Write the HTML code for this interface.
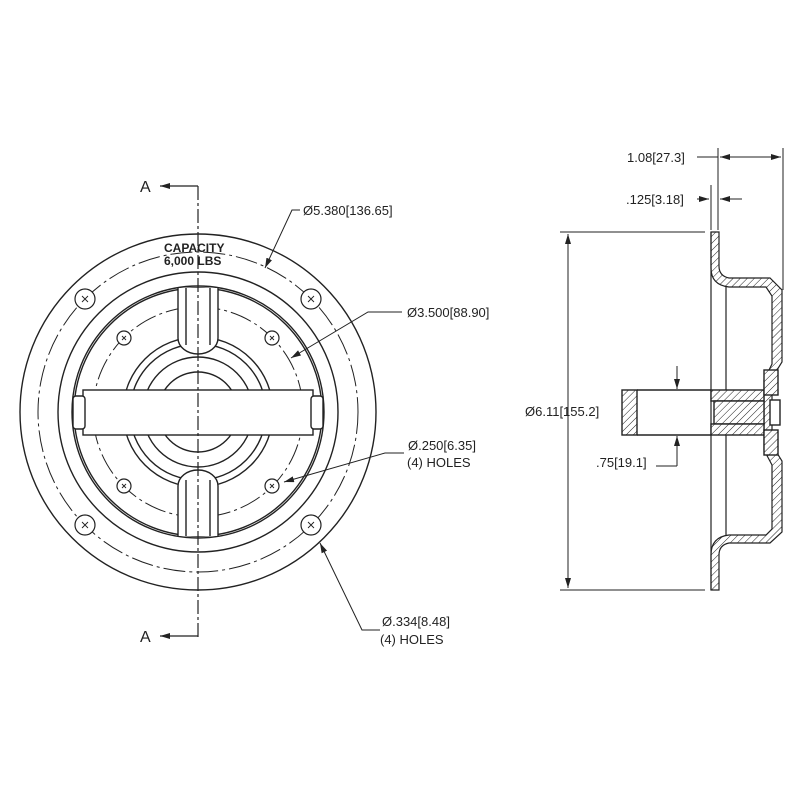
<!DOCTYPE html>
<html><head><style>body{margin:0;background:#fff}svg{display:block}text{font-family:"Liberation Sans",sans-serif;fill:#222}</style></head>
<body>
<svg width="800" height="800" viewBox="0 0 800 800" xmlns="http://www.w3.org/2000/svg">
<defs>
<pattern id="h" width="5" height="5" patternUnits="userSpaceOnUse" patternTransform="rotate(45)"><rect width="5" height="5" fill="#fff"/><line x1="0" y1="0" x2="0" y2="5" stroke="#222" stroke-width="1"/></pattern>
<marker id="ar" markerWidth="10" markerHeight="6" refX="10" refY="3" orient="auto" markerUnits="userSpaceOnUse"><path d="M0,0L10,3L0,6z" fill="#222"/></marker>
</defs>
<g fill="none" stroke="#222" stroke-width="1.4">
<!-- left view -->
<circle cx="198" cy="412" r="178"/>
<circle cx="198" cy="412" r="160" stroke-dasharray="22 4 3 4" stroke-width="1"/>
<circle cx="198" cy="412" r="140"/>
<circle cx="198" cy="412" r="126"/>
<circle cx="198" cy="412" r="124"/>
<circle cx="198" cy="412" r="105" stroke-dasharray="22 4 3 4" stroke-width="1"/>
<circle cx="198" cy="412" r="75"/>
<circle cx="198" cy="412" r="68"/>
<circle cx="198" cy="412" r="55"/>
<circle cx="198" cy="412" r="40"/>
<!-- slots -->
<path d="M178,288 V338 A20,16 0 0 0 218,338 V288" fill="#fff"/>
<path d="M178,536 V486 A20,16 0 0 1 218,486 V536" fill="#fff"/>
<line x1="186" y1="288" x2="186" y2="345"/><line x1="210" y1="288" x2="210" y2="345"/>
<line x1="186" y1="536" x2="186" y2="480"/><line x1="210" y1="536" x2="210" y2="480"/>
<!-- bar -->
<rect x="83" y="390" width="230" height="45" fill="#fff"/>
<rect x="73" y="396" width="12" height="33" rx="3" fill="#fff"/>
<rect x="311" y="396" width="12" height="33" rx="3" fill="#fff"/>
<!-- holes -->
<g stroke-width="1.2">
<circle cx="85" cy="299" r="10" fill="#fff"/><circle cx="311" cy="299" r="10" fill="#fff"/>
<circle cx="85" cy="525" r="10" fill="#fff"/><circle cx="311" cy="525" r="10" fill="#fff"/>
<circle cx="124" cy="338" r="7" fill="#fff"/><circle cx="272" cy="338" r="7" fill="#fff"/>
<circle cx="124" cy="486" r="7" fill="#fff"/><circle cx="272" cy="486" r="7" fill="#fff"/>
</g>
<g stroke-width="0.9">
<path d="M82,296l6,6M88,296l-6,6M308,296l6,6M314,296l-6,6M82,522l6,6M88,522l-6,6M308,522l6,6M314,522l-6,6"/>
<path d="M122,336l4,4M126,336l-4,4M270,336l4,4M274,336l-4,4M122,484l4,4M126,484l-4,4M270,484l4,4M274,484l-4,4"/>
</g>
<!-- centerline -->
<line x1="198" y1="186" x2="198" y2="638" stroke-dasharray="14 3 3 3" stroke-width="1.2"/>
<line x1="198" y1="186" x2="160" y2="186" marker-end="url(#ar)" stroke-width="1.2"/>
<line x1="198" y1="636" x2="160" y2="636" marker-end="url(#ar)" stroke-width="1.2"/>
<!-- leaders -->
<g stroke-width="1">
<path d="M300,210H292L265,268" marker-end="url(#ar)"/>
<path d="M402,312H368L291,358" marker-end="url(#ar)"/>
<path d="M404,453H385L284,482" marker-end="url(#ar)"/>
<path d="M380,630H362L320,543" marker-end="url(#ar)"/>
</g>
<!-- right view -->
<path d="M711,232 H719 V266 Q719,276 729,278 H770 L782,290 V362 L772,378 V445 L782,461 V532 L770,543 H729 Q719,545 719,555 V590 H711 V555 Q711,537 729,535 H766 L772,529 V465 L764,450 V380 L772,364 V296 L766,287 H729 Q711,285 711,268 Z" fill="url(#h)" stroke-width="1.2"/>
<line x1="711" y1="232" x2="711" y2="590" stroke-width="1.2"/>
<line x1="726" y1="286" x2="726" y2="536" stroke-width="1.2"/>
<rect x="622" y="390" width="15" height="45" fill="url(#h)"/>
<line x1="637" y1="390" x2="711" y2="390"/><line x1="637" y1="435" x2="711" y2="435"/>
<rect x="711" y="390" width="53" height="11" fill="url(#h)"/>
<rect x="714" y="401" width="50" height="23" fill="url(#h)"/>
<rect x="711" y="424" width="53" height="11" fill="url(#h)"/>
<rect x="764" y="370" width="14" height="25" fill="url(#h)"/>
<rect x="764" y="430" width="14" height="25" fill="url(#h)"/>
<rect x="770" y="400" width="10" height="25" fill="#fff"/>
<!-- dims -->
<g stroke-width="1">
<line x1="560" y1="232" x2="705" y2="232"/><line x1="560" y1="590" x2="705" y2="590"/>
<line x1="568" y1="420" x2="568" y2="234" marker-end="url(#ar)"/>
<line x1="568" y1="420" x2="568" y2="588" marker-end="url(#ar)"/>
<line x1="718" y1="148" x2="718" y2="230"/><line x1="783" y1="148" x2="783" y2="290"/>
<line x1="711" y1="185" x2="711" y2="230"/>
<line x1="697" y1="157" x2="718" y2="157"/>
<line x1="750" y1="157" x2="720" y2="157" marker-end="url(#ar)"/>
<line x1="750" y1="157" x2="781" y2="157" marker-end="url(#ar)"/>
<line x1="697" y1="199" x2="709" y2="199" marker-end="url(#ar)"/>
<line x1="742" y1="199" x2="720" y2="199" marker-end="url(#ar)"/>
<line x1="677" y1="366" x2="677" y2="389" marker-end="url(#ar)"/>
<line x1="677" y1="466" x2="677" y2="436" marker-end="url(#ar)"/>
<line x1="677" y1="466" x2="656" y2="466"/>
</g>
</g>
<g font-size="13">
<text x="140" y="192" font-size="16">A</text>
<text x="140" y="642" font-size="16">A</text>
<text x="164" y="252" font-weight="bold" font-size="12">CAPACITY</text>
<text x="164" y="265" font-weight="bold" font-size="12">6,000 LBS</text>
<text x="303" y="215">Ø5.380[136.65]</text>
<text x="407" y="317">Ø3.500[88.90]</text>
<text x="408" y="450">Ø.250[6.35]</text>
<text x="407" y="467">(4) HOLES</text>
<text x="382" y="626">Ø.334[8.48]</text>
<text x="380" y="644">(4) HOLES</text>
<text x="525" y="416">Ø6.11[155.2]</text>
<text x="596" y="467">.75[19.1]</text>
<text x="627" y="162">1.08[27.3]</text>
<text x="626" y="204">.125[3.18]</text>
</g>
</svg>
</body></html>
